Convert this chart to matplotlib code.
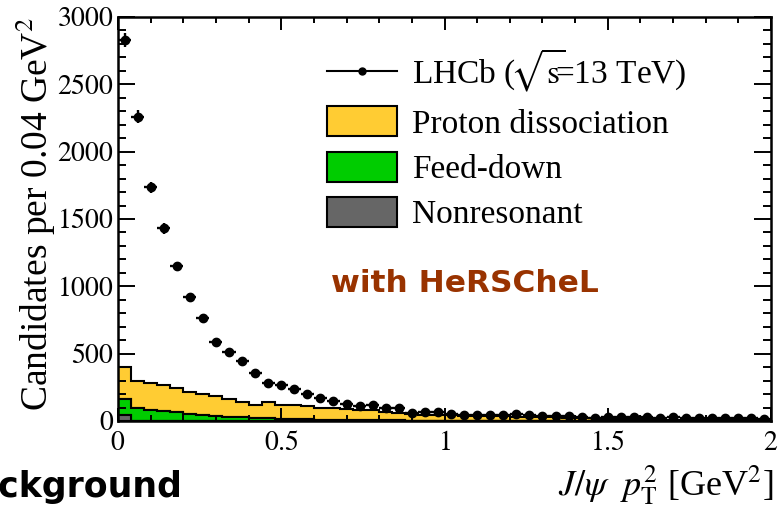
import numpy as np
import matplotlib
matplotlib.use('Agg')
import matplotlib.pyplot as plt
import matplotlib.ticker as mticker
from matplotlib.lines import Line2D
from matplotlib.patches import Patch

plt.rcParams['font.family'] = 'serif'
plt.rcParams['font.serif'] = ['Liberation Serif', 'DejaVu Serif']
plt.rcParams['mathtext.fontset'] = 'stix'

# --- binning: 50 bins of 0.04 GeV^2 from 0 to 2 ---
bin_edges = np.linspace(0.0, 2.0, 51)
bin_centers = 0.5 * (bin_edges[:-1] + bin_edges[1:])

# LHCb data (candidates per bin)
data_counts = [2830, 2260, 1735, 1430, 1150, 920, 765, 590, 510, 447,
               360, 285, 270, 235, 202, 172, 145, 125, 115, 118,
               100, 95, 58, 68, 68, 55, 48, 48, 45, 45,
               50, 45, 40, 35, 40, 30, 25, 30, 28, 30,
               27, 25, 28, 24, 22, 25, 20, 22, 20, 18]

# background components (stacked: nonresonant, feed-down, proton dissociation)
nonres = [45, 1, 1, 1, 1, 1, 1, 1, 1, 1,
          0, 0, 0, 0, 0, 0, 0, 0, 0, 0,
          0, 0, 0, 0, 0, 0, 0, 0, 0, 0,
          0, 0, 0, 0, 0, 0, 0, 0, 0, 0,
          0, 0, 0, 0, 0, 0, 0, 0, 0, 0]
feed_down = [118, 99, 84, 72, 64, 54, 47, 39, 32, 27,
             25, 22, 18, 15, 12, 10, 8, 7, 6, 5,
             4, 4, 3, 3, 3, 2, 2, 2, 2, 2,
             1, 1, 1, 1, 1, 1, 1, 1, 1, 1,
             1, 1, 1, 1, 1, 1, 1, 1, 1, 1]
proton_diss = [237, 200, 200, 192, 183, 160, 150, 145, 127, 112,
               97, 116, 104, 103, 96, 85, 86, 85, 72, 73,
               62, 56, 52, 45, 42, 40, 38, 36, 34, 32,
               31, 29, 27, 25, 24, 23, 21, 13, 12, 11,
               11, 10, 9, 7, 6, 5, 5, 4, 4, 3]

YELLOW = '#ffcc33'
GREEN = '#00cc00'
GREY = '#666666'


def serif_fmt(v, pos):
    # mathtext keeps the tick numbers in the Times-like STIX face
    return rf'$\mathrm{{{v:g}}}$'


fig = plt.figure(figsize=(7.79, 5.08), dpi=100)
ax = fig.add_axes([118 / 779, 1 - 421 / 508, 653 / 779, 404 / 508])

ax.hist([bin_centers] * 3, bins=bin_edges,
        weights=[nonres, feed_down, proton_diss], stacked=True,
        histtype='stepfilled', color=[GREY, GREEN, YELLOW],
        edgecolor='black', linewidth=1.5)

counts = np.array(data_counts, dtype=float)
ax.errorbar(bin_centers, counts, xerr=0.02, yerr=np.sqrt(counts),
            fmt='o', color='black', ms=6, elinewidth=1.7, capsize=0, zorder=5)

ax.set_xlim(0, 2)
ax.set_ylim(0, 3000)
ax.xaxis.set_major_locator(mticker.MultipleLocator(0.5))
ax.xaxis.set_minor_locator(mticker.MultipleLocator(0.1))
ax.yaxis.set_major_locator(mticker.MultipleLocator(500))
ax.yaxis.set_minor_locator(mticker.MultipleLocator(100))
ax.xaxis.set_major_formatter(mticker.FuncFormatter(serif_fmt))
ax.yaxis.set_major_formatter(mticker.FuncFormatter(serif_fmt))

ax.tick_params(which='both', direction='in', top=True, right=True,
               width=1.4, labelsize=20)
ax.tick_params(axis='x', which='major', length=9.5, pad=7)
ax.tick_params(axis='x', which='minor', length=4.5)
ax.tick_params(axis='y', which='major', length=12, pad=3)
ax.tick_params(axis='y', which='minor', length=6)
for sp in ax.spines.values():
    sp.set_linewidth(1.8)

ax.set_ylabel(r'Candidates per 0.04 GeV$^{2}$', fontsize=27, loc='top')
ax.yaxis.set_label_coords(-0.092, 1.0)
ax.set_xlabel(r'$J/\psi\ \ p_{\mathrm{T}}^{2}$ [GeV$^{2}$]', fontsize=26, loc='right')
ax.xaxis.set_label_coords(1.003, -0.105)

handles = [
    Line2D([0], [0], color='black', lw=1.5, marker='o', ms=5),
    Patch(facecolor=YELLOW, edgecolor='black', linewidth=1.5),
    Patch(facecolor=GREEN, edgecolor='black', linewidth=1.5),
    Patch(facecolor=GREY, edgecolor='black', linewidth=1.5),
]
labels = [r'LHCb ($\!\sqrt{\mathrm{s}}\!\!$=13 TeV)', 'Proton dissociation',
          'Feed-down', 'Nonresonant']
ax.legend(handles, labels, loc='upper left', bbox_to_anchor=(0.32, 0.925),
          frameon=False, fontsize=24, borderaxespad=0, borderpad=0,
          handlelength=2.1, handleheight=1.0, handletextpad=0.45,
          labelspacing=0.36)

fig.text(331 / 779, 1 - 292 / 508, 'with HeRSCheL', family='DejaVu Sans',
         fontweight='bold', fontsize=22.5, color='#993300', va='baseline')
fig.text(183 / 779, 1 - 497 / 508, 'Background', family='DejaVu Sans',
         fontweight='bold', fontsize=25, color='black', ha='right', va='baseline')

fig.savefig('out.png', dpi=100)
